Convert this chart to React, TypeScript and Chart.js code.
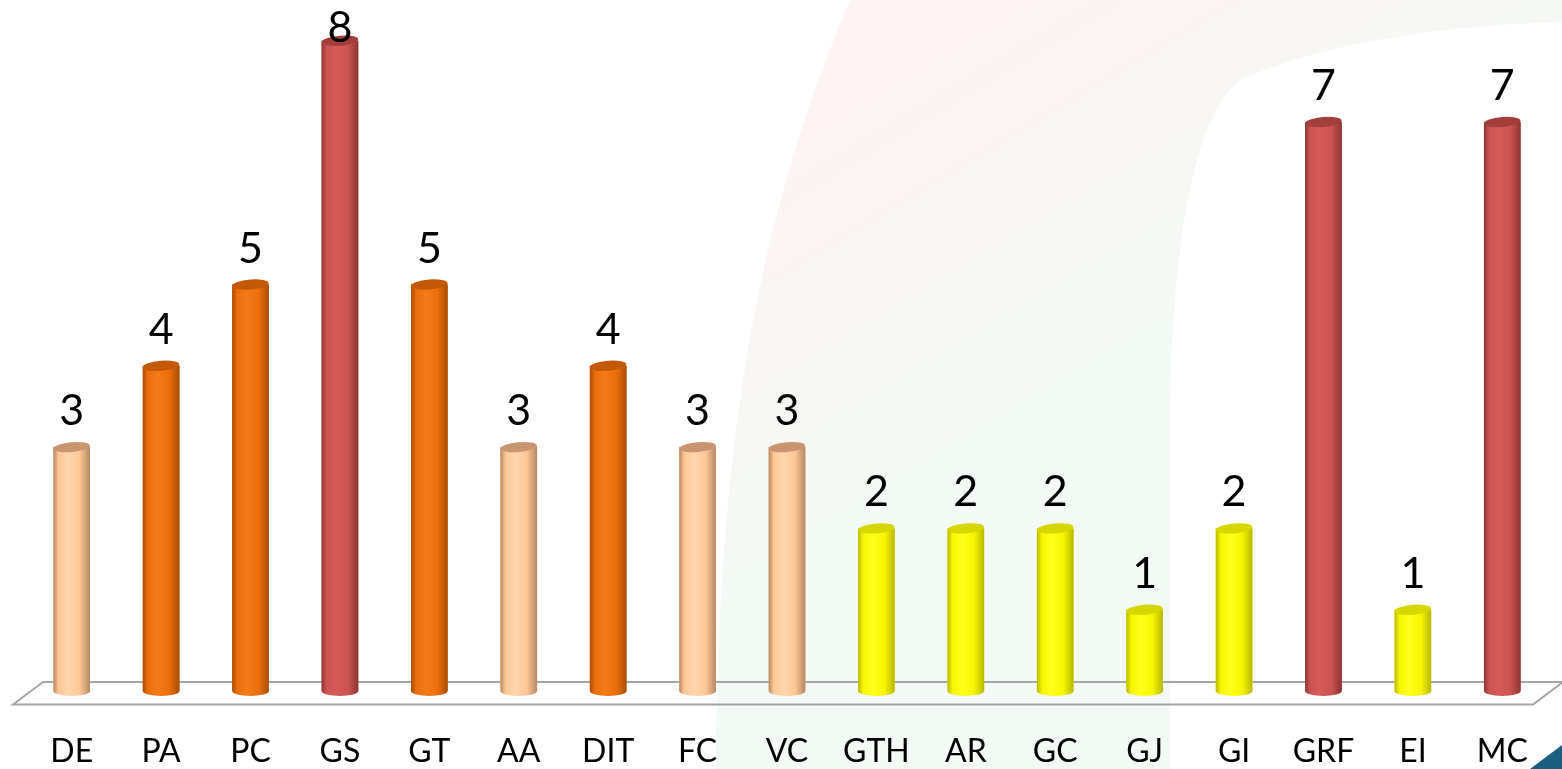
import React, { useEffect, useRef } from "react";
import { Chart, registerables } from "chart.js";

Chart.register(...registerables);

const categories = ["DE", "PA", "PC", "GS", "GT", "AA", "DIT", "FC", "VC", "GTH", "AR", "GC", "GJ", "GI", "GRF", "EI", "MC"];
const values = [3, 4, 5, 8, 5, 3, 4, 3, 3, 2, 2, 2, 1, 2, 7, 1, 7];
const groups = ["peach", "orange", "orange", "red", "orange", "peach", "orange", "peach", "peach", "yellow", "yellow", "yellow", "yellow", "yellow", "red", "yellow", "red"];

const palette: Record<string, { base: string; light: string; dark: string; cap: string }> = {
  peach: { base: "#FDC795", light: "#FFD6AE", dark: "#B58862", cap: "#C99570" },
  orange: { base: "#EC6E0C", light: "#F37B18", dark: "#A84D06", cap: "#C35806" },
  red: { base: "#CB5351", light: "#D65B59", dark: "#8E3533", cap: "#A23F3D" },
  yellow: { base: "#F6F600", light: "#FFFF1A", dark: "#B8B800", cap: "#D6D600" },
};

const backgroundPlugin = {
  id: "bgWatermark",
  beforeDraw(chart: any) {
    const { ctx, width, height } = chart;
    ctx.save();
    ctx.fillStyle = "#ffffff";
    ctx.fillRect(0, 0, width, height);
    const g = ctx.createLinearGradient(820, 120, 1000, 420);
    g.addColorStop(0, "#fdf3f3");
    g.addColorStop(1, "#f3f9f4");
    ctx.fillStyle = g;
    ctx.beginPath();
    ctx.moveTo(850, 0);
    ctx.bezierCurveTo(765, 200, 718, 420, 716, height);
    ctx.lineTo(1170, height);
    ctx.lineTo(1170, 420);
    ctx.bezierCurveTo(1172, 220, 1200, 110, 1240, 80);
    ctx.bezierCurveTo(1330, 40, 1450, 25, width, 22);
    ctx.lineTo(width, 0);
    ctx.closePath();
    ctx.fill();
    // corner accent
    ctx.fillStyle = "#1b5f80";
    ctx.beginPath();
    ctx.moveTo(1530, height);
    ctx.lineTo(width, 745);
    ctx.lineTo(width, height);
    ctx.closePath();
    ctx.fill();
    ctx.restore();
  },
};

const floorPlugin = {
  id: "floor3d",
  beforeDatasetsDraw(chart: any) {
    const { ctx, chartArea } = chart;
    const base = chart.scales.y.getPixelForValue(0);
    ctx.save();
    ctx.strokeStyle = "#a5a5a5";
    ctx.lineWidth = 2;
    ctx.beginPath();
    ctx.moveTo(chartArea.left - 14, base + 13.5);
    ctx.lineTo(chartArea.left + 16, base - 9);
    ctx.lineTo(chartArea.right + 16, base - 9);
    ctx.lineTo(chartArea.right - 14, base + 13.5);
    ctx.closePath();
    ctx.stroke();
    ctx.restore();
  },
};

const cylinderPlugin = {
  id: "cylinders",
  afterDatasetsDraw(chart: any) {
    const ctx = chart.ctx;
    const top = chart.chartArea.top;
    const meta = chart.getDatasetMeta(0);
    meta.data.forEach((el: any, i: number) => {
      const { x, y, base, width } = el.getProps(["x", "y", "base", "width"], true);
      const c = palette[groups[i]];
      const rx = width / 2;
      const ry = 5;
      const g = ctx.createLinearGradient(x - rx, 0, x + rx, 0);
      g.addColorStop(0, c.dark);
      g.addColorStop(0.14, c.base);
      g.addColorStop(0.4, c.light);
      g.addColorStop(0.72, c.base);
      g.addColorStop(1, c.dark);
      ctx.save();
      ctx.fillStyle = g;
      ctx.beginPath();
      ctx.moveTo(x - rx, y);
      ctx.lineTo(x - rx, base);
      ctx.ellipse(x, base, rx, ry, 0, Math.PI, 0, true);
      ctx.lineTo(x + rx, y);
      ctx.closePath();
      ctx.fill();
      ctx.fillStyle = c.cap;
      ctx.beginPath();
      ctx.ellipse(x, y, rx, ry, -0.08, 0, Math.PI * 2);
      ctx.fill();
      ctx.fillStyle = "#000000";
      ctx.font = "43px Lato, 'Open Sans', sans-serif";
      ctx.textAlign = "center";
      ctx.textBaseline = "alphabetic";
      ctx.fillText(String(values[i]), x, Math.max(y - 22, top + 42));
      ctx.restore();
    });
  },
};

export default function App() {
  const ref = useRef<HTMLCanvasElement | null>(null);
  useEffect(() => {
    if (!ref.current) return;
    const chart = new Chart(ref.current, {
      type: "bar",
      data: {
        labels: categories,
        datasets: [
          {
            data: values,
            backgroundColor: groups.map((g) => palette[g].base),
            barPercentage: 0.41,
            categoryPercentage: 1,
            borderWidth: 0,
          },
        ],
      },
      options: {
        responsive: false,
        animation: false,
        layout: { padding: { left: 27, right: 15, top: 0, bottom: 0 } },
        plugins: { legend: { display: false }, tooltip: { enabled: false } },
        scales: {
          x: {
            grid: { display: false, drawTicks: false },
            border: { display: false },
            ticks: {
              color: "#000000",
              font: { family: "Lato, 'Open Sans', sans-serif", size: 32, lineHeight: 1 },
              padding: 45,
              maxRotation: 0,
              autoSkip: false,
            },
            afterFit: (scale: any) => {
              scale.height = 78;
              scale.paddingLeft = 0;
              scale.paddingRight = 0;
            },
          },
          y: { display: false, min: 0, max: 8.5 },
        },
      },
      plugins: [backgroundPlugin, floorPlugin, cylinderPlugin],
    });
    return () => chart.destroy();
  }, []);
  return (
    <div style={{ position: "fixed", left: 0, top: 0, width: 1562, height: 769, overflow: "hidden" }}>
      <canvas ref={ref} width={1562} height={769} style={{ display: "block" }} />
    </div>
  );
}
